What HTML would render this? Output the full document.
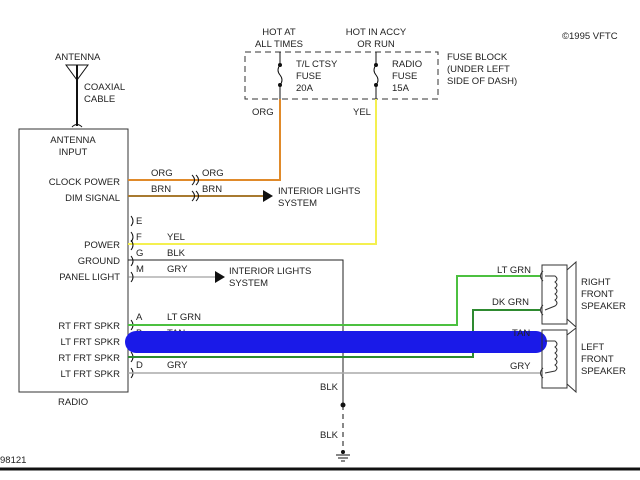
<!DOCTYPE html>
<html><head><meta charset="utf-8"><style>
html,body{margin:0;padding:0;background:#fff;}
svg{display:block;}
text{font-family:"Liberation Sans",sans-serif;font-size:9.5px;fill:#222;}
</style></head><body>
<svg width="640" height="480" viewBox="0 0 640 480" xmlns="http://www.w3.org/2000/svg">
<rect width="640" height="480" fill="#fff"/>
<!-- bottom border -->
<line x1="0" y1="469" x2="640" y2="469" stroke="#111" stroke-width="3"/>
<text x="0" y="463">98121</text>
<text x="562" y="39">©1995 VFTC</text>

<!-- antenna -->
<text x="55" y="60">ANTENNA</text>
<polygon points="66,65 88,65 77,80" fill="none" stroke="#111" stroke-width="1"/>
<line x1="77" y1="65" x2="77" y2="126" stroke="#111" stroke-width="2"/>
<path d="M72,127 Q77,122 82,127" fill="none" stroke="#111"/>
<text x="84" y="90">COAXIAL</text>
<text x="84" y="102">CABLE</text>

<!-- radio box -->
<rect x="19" y="129" width="109" height="263" fill="none" stroke="#333" stroke-width="1"/>
<text x="73" y="143" text-anchor="middle">ANTENNA</text>
<text x="73" y="155" text-anchor="middle">INPUT</text>
<text x="120" y="185" text-anchor="end">CLOCK  POWER</text>
<text x="120" y="201" text-anchor="end">DIM SIGNAL</text>
<text x="120" y="248" text-anchor="end">POWER</text>
<text x="120" y="264" text-anchor="end">GROUND</text>
<text x="120" y="280" text-anchor="end">PANEL LIGHT</text>
<text x="120" y="329" text-anchor="end">RT FRT SPKR</text>
<text x="120" y="345" text-anchor="end">LT FRT SPKR</text>
<text x="120" y="361" text-anchor="end">RT FRT SPKR</text>
<text x="120" y="377" text-anchor="end">LT FRT SPKR</text>
<text x="58" y="405">RADIO</text>

<!-- fuse block -->
<rect x="245" y="52" width="193" height="47" fill="none" stroke="#333" stroke-dasharray="6,4"/>
<text x="279" y="35" text-anchor="middle">HOT AT</text>
<text x="279" y="47" text-anchor="middle">ALL TIMES</text>
<text x="376" y="35" text-anchor="middle">HOT IN ACCY</text>
<text x="376" y="47" text-anchor="middle">OR RUN</text>
<g stroke="#111" fill="none">
<line x1="280" y1="52" x2="280" y2="65"/><path d="M280,65 Q276,70 280,75 Q284,80 280,85"/><line x1="280" y1="85" x2="280" y2="99"/>
<line x1="376" y1="52" x2="376" y2="65"/><path d="M376,65 Q372,70 376,75 Q380,80 376,85"/><line x1="376" y1="85" x2="376" y2="99"/>
</g>
<circle cx="280" cy="65" r="2" fill="#111"/><circle cx="280" cy="85" r="2" fill="#111"/>
<circle cx="376" cy="65" r="2" fill="#111"/><circle cx="376" cy="85" r="2" fill="#111"/>
<text x="296" y="67">T/L CTSY</text><text x="296" y="79">FUSE</text><text x="296" y="91">20A</text>
<text x="392" y="67">RADIO</text><text x="392" y="79">FUSE</text><text x="392" y="91">15A</text>
<text x="447" y="60">FUSE BLOCK</text><text x="447" y="72">(UNDER LEFT</text><text x="447" y="84">SIDE OF DASH)</text>
<text x="252" y="115">ORG</text><text x="353" y="115">YEL</text>

<!-- wires -->
<polyline points="128,180 280,180 280,99" fill="none" stroke="#e08a2a" stroke-width="2"/>
<line x1="128" y1="196" x2="265" y2="196" stroke="#a87a30" stroke-width="2"/>
<polygon points="263,190 273,196 263,202" fill="#111"/>
<g stroke="#111" fill="none"><path d="M192,175 Q197,180 192,185"/><path d="M196,175 Q201,180 196,185"/><path d="M192,191 Q197,196 192,201"/><path d="M196,191 Q201,196 196,201"/></g>
<text x="151" y="176">ORG</text><text x="202" y="176">ORG</text>
<text x="151" y="192">BRN</text><text x="202" y="192">BRN</text>
<text x="278" y="194">INTERIOR LIGHTS</text><text x="278" y="206">SYSTEM</text>

<polyline points="128,244 376,244 376,99" fill="none" stroke="#f4f050" stroke-width="2"/>
<polyline points="128,260 343,260 343,405" fill="none" stroke="#222" stroke-width="1"/>
<circle cx="343" cy="405" r="2.5" fill="#111"/>
<line x1="343" y1="405" x2="343" y2="452" stroke="#111" stroke-dasharray="5,4"/>
<circle cx="343" cy="452" r="2" fill="#111"/>
<line x1="336" y1="455" x2="350" y2="455" stroke="#111"/>
<line x1="338" y1="458" x2="348" y2="458" stroke="#111"/>
<line x1="341" y1="461" x2="345" y2="461" stroke="#111"/>
<text x="320" y="390">BLK</text><text x="320" y="438">BLK</text>
<line x1="128" y1="277" x2="217" y2="277" stroke="#888" stroke-width="1"/>
<polygon points="215,271 225,277 215,283" fill="#111"/>
<text x="229" y="274">INTERIOR LIGHTS</text><text x="229" y="286">SYSTEM</text>

<text x="136" y="224">E</text><text x="136" y="240">F</text><text x="136" y="256">G</text><text x="136" y="272">M</text>
<text x="136" y="320">A</text><text x="136" y="336">B</text><text x="136" y="352">C</text><text x="136" y="368">D</text>
<text x="167" y="240">YEL</text><text x="167" y="256">BLK</text><text x="167" y="272">GRY</text>
<text x="167" y="320">LT GRN</text><text x="167" y="336">TAN</text><text x="167" y="352">DK GRN</text><text x="167" y="368">GRY</text>
<g stroke="#111" fill="none">
<path d="M131,216 Q135,221 131,226"/><path d="M131,232 Q135,237 131,242"/><path d="M131,240 Q135,245 131,250"/><path d="M131,256 Q135,261 131,266"/><path d="M131,272 Q135,277 131,282"/>
<path d="M131,320 Q135,325 131,330"/><path d="M131,352 Q135,357 131,362"/><path d="M131,368 Q135,373 131,378"/>
</g>

<polyline points="128,325 457,325 457,276 540,276" fill="none" stroke="#4cc040" stroke-width="2"/>
<polyline points="128,357 473,357 473,310 540,310" fill="none" stroke="#2e8a30" stroke-width="2"/>
<line x1="128" y1="373" x2="540" y2="373" stroke="#aaa" stroke-width="1.5"/>
<rect x="125" y="331" width="422" height="22" rx="11" fill="#1a1ae8"/>
<text x="497" y="273">LT GRN</text><text x="492" y="305">DK GRN</text>
<text x="512" y="336" fill="#3030a0">TAN</text><text x="510" y="369">GRY</text>

<!-- speakers -->
<g stroke="#333" fill="none">
<rect x="542" y="265" width="25" height="59"/>
<polyline points="567,270 576,262 576,327 567,319"/>
<rect x="542" y="330" width="25" height="58"/>
<polyline points="567,335 576,328 576,392 567,384"/>
<path d="M545,276 L555,276 q4,3 0,6 q4,3 0,6 q4,3 0,6 q4,3 0,6 q4,3 0,6 L545,310"/>
<path d="M545,341 L555,341 q4,3 0,6 q4,3 0,6 q4,3 0,6 q4,3 0,6 q4,3 0,6 L545,373"/>
<path d="M543,271 Q538,276 543,281"/><path d="M543,305 Q538,310 543,315"/><path d="M543,368 Q538,373 543,378"/>
</g>
<text x="581" y="285">RIGHT</text><text x="581" y="297">FRONT</text><text x="581" y="309">SPEAKER</text>
<text x="581" y="350">LEFT</text><text x="581" y="362">FRONT</text><text x="581" y="374">SPEAKER</text>
</svg>
</body></html>
